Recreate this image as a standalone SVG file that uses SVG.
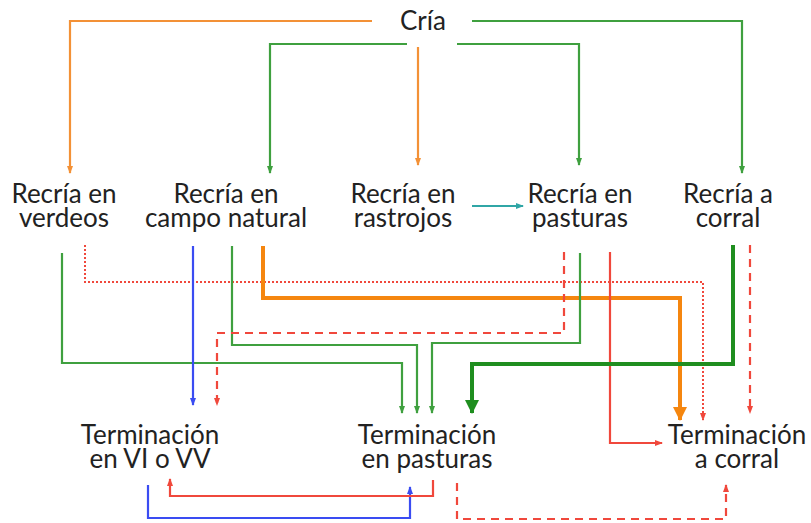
<svg xmlns="http://www.w3.org/2000/svg" width="811" height="523" viewBox="0 0 811 523">
<style>
text{font-family:Lato,"Open Sans","Liberation Sans",sans-serif;font-size:26px;fill:#222;text-anchor:middle}
.c{fill:none;stroke-linejoin:miter}
.o{stroke:#F39136;stroke-width:2.2}
.ot{stroke:#F5860F;stroke-width:4}
.g{stroke:#3FA03F;stroke-width:2.2}
.gt{stroke:#1F8E1F;stroke-width:4}
.b{stroke:#3A4CF2;stroke-width:2.2}
.r{stroke:#F0483C;stroke-width:2.2}
.rd{stroke:#F0483C;stroke-width:2.2;stroke-dasharray:8 6}
.rdot{stroke:#F0483C;stroke-width:2;stroke-dasharray:2 2}
.t{stroke:#30A6A6;stroke-width:2.2}
</style>
<defs>
<marker id="aO" viewBox="0 0 8 8" refX="7" refY="4" markerWidth="8" markerHeight="8" markerUnits="userSpaceOnUse" orient="auto"><path d="M0,1 L8,4 L0,7 Z" fill="#F39136"/></marker>
<marker id="aG" viewBox="0 0 8 8" refX="7" refY="4" markerWidth="8" markerHeight="8" markerUnits="userSpaceOnUse" orient="auto"><path d="M0,1 L8,4 L0,7 Z" fill="#3FA03F"/></marker>
<marker id="aB" viewBox="0 0 8 8" refX="7" refY="4" markerWidth="8" markerHeight="8" markerUnits="userSpaceOnUse" orient="auto"><path d="M0,1 L8,4 L0,7 Z" fill="#3A4CF2"/></marker>
<marker id="aR" viewBox="0 0 8 8" refX="7" refY="4" markerWidth="8" markerHeight="8" markerUnits="userSpaceOnUse" orient="auto"><path d="M0,1 L8,4 L0,7 Z" fill="#F0483C"/></marker>
<marker id="aT" viewBox="0 0 8 8" refX="7" refY="4" markerWidth="8" markerHeight="8" markerUnits="userSpaceOnUse" orient="auto"><path d="M0,1 L8,4 L0,7 Z" fill="#30A6A6"/></marker>
<marker id="aOT" viewBox="0 0 14 14" refX="13" refY="7" markerWidth="14" markerHeight="14" markerUnits="userSpaceOnUse" orient="auto"><path d="M0,0 L14,7 L0,14 Z" fill="#F5860F"/></marker>
<marker id="aGT" viewBox="0 0 14 14" refX="13" refY="7" markerWidth="14" markerHeight="14" markerUnits="userSpaceOnUse" orient="auto"><path d="M0,0 L14,7 L0,14 Z" fill="#1F8E1F"/></marker>
</defs>
<g id="connectors">
<path class="c o" d="M372,21 H70 V173" marker-end="url(#aO)"/>
<path class="c g" d="M472,21 H742 V173" marker-end="url(#aG)"/>
<path class="c g" d="M407,44 H270 V173" marker-end="url(#aG)"/>
<path class="c o" d="M418,47 V165" marker-end="url(#aO)"/>
<path class="c g" d="M457,44 H579 V165" marker-end="url(#aG)"/>
<path class="c t" d="M472,206 H523" marker-end="url(#aT)"/>
<path class="c g" d="M62,253 V363 H402 V413" marker-end="url(#aG)"/>
<path class="c rdot" d="M85,245 V282 H703 V420" marker-end="url(#aR)"/>
<path class="c b" d="M193,246 V405" marker-end="url(#aB)"/>
<path class="c g" d="M232,246 V345 H417 V413" marker-end="url(#aG)"/>
<path class="c ot" d="M263,246 V298 H680 V420" marker-end="url(#aOT)"/>
<path class="c rd" d="M564,252 V333 H217 V405" marker-end="url(#aR)"/>
<path class="c g" d="M580,253 V343 H432 V413" marker-end="url(#aG)"/>
<path class="c r" d="M610,252 V443 H662" marker-end="url(#aR)"/>
<path class="c gt" d="M733,245 V364 H472 V413" marker-end="url(#aGT)"/>
<path class="c rd" d="M750,245 V413" marker-end="url(#aR)"/>
<path class="c b" d="M148,485 V518 H410 V487" marker-end="url(#aB)"/>
<path class="c r" d="M433,480 V496 H170 V479" marker-end="url(#aR)"/>
<path class="c rd" d="M457,483 V519 H726 V485" marker-end="url(#aR)"/>
</g>
<g id="cria"><text x="423" y="30">Cría</text></g>
<g id="recria-verdeos"><text x="64" y="203"><tspan x="64">Recría en</tspan><tspan x="64" dy="24">verdeos</tspan></text></g>
<g id="recria-campo"><text x="226" y="203"><tspan x="226">Recría en</tspan><tspan x="226" dy="24">campo natural</tspan></text></g>
<g id="recria-rastrojos"><text x="403" y="203"><tspan x="403">Recría en</tspan><tspan x="403" dy="24">rastrojos</tspan></text></g>
<g id="recria-pasturas"><text x="580" y="203"><tspan x="580">Recría en</tspan><tspan x="580" dy="24">pasturas</tspan></text></g>
<g id="recria-corral"><text x="728" y="203"><tspan x="728">Recría a</tspan><tspan x="728" dy="24">corral</tspan></text></g>
<g id="term-vi"><text x="150" y="444"><tspan x="150">Terminación</tspan><tspan x="150" dy="24">en VI o VV</tspan></text></g>
<g id="term-pasturas"><text x="427" y="444"><tspan x="427">Terminación</tspan><tspan x="427" dy="24">en pasturas</tspan></text></g>
<g id="term-corral"><text x="737" y="444"><tspan x="737">Terminación</tspan><tspan x="737" dy="24">a corral</tspan></text></g>
</svg>
